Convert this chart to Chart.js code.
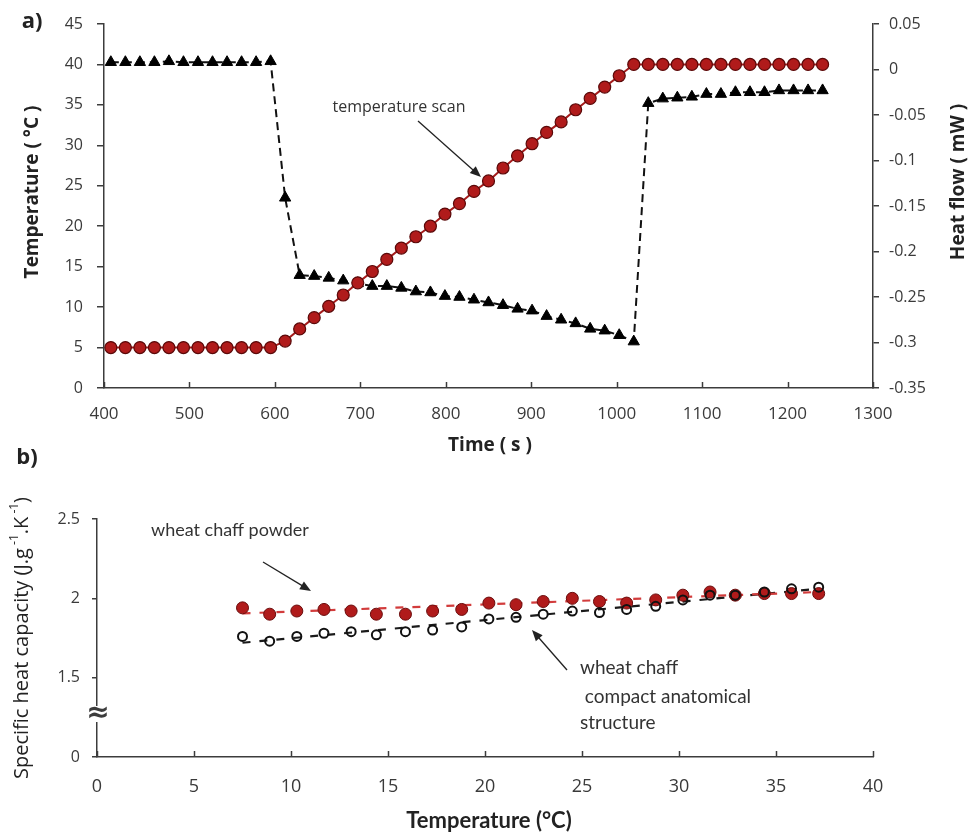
<!DOCTYPE html>
<html>
<head>
<meta charset="utf-8">
<script src="https://cdn.jsdelivr.net/npm/chart.js@4.4.0/dist/chart.umd.min.js"></script>
<style>
  html, body { margin: 0; padding: 0; background: #fff; }
  #wrap { position: relative; width: 971px; height: 834px; overflow: hidden; }
  #chart-a { position: absolute; left: 0; top: 0; }
  #chart-b { position: absolute; left: 0; top: 440px; }
</style>
</head>
<body>
<div id="wrap">
  <canvas id="chart-a" width="971" height="460"></canvas>
  <canvas id="chart-b" width="971" height="394"></canvas>
</div>
<script>
// a) 温度扫描: 时间 (s), 温度 (°C), 热流 (mW)
const scanTime = [408, 425, 442, 459, 476, 493, 510, 527, 544, 561, 578, 595,
    612, 629, 646, 663, 680, 697, 714, 731, 748, 765, 782, 799, 816, 833, 850,
    867, 884, 901, 918, 935, 952, 969, 986, 1003, 1020,
    1037, 1054, 1071, 1088, 1105, 1122, 1139, 1156, 1173, 1190, 1207, 1224, 1241];
const scanTemperature = [5, 5, 5, 5, 5, 5, 5, 5, 5, 5, 5, 5,
    5.8, 7.3, 8.7, 10.1, 11.5, 13.0, 14.4, 15.9, 17.3, 18.7, 20.0, 21.5, 22.8, 24.3, 25.6,
    27.2, 28.7, 30.2, 31.6, 32.9, 34.4, 35.8, 37.2, 38.6, 40.0,
    40, 40, 40, 40, 40, 40, 40, 40, 40, 40, 40, 40, 40];
const scanHeatFlow = [0.008, 0.008, 0.008, 0.008, 0.009, 0.008, 0.008, 0.008, 0.008, 0.008, 0.008, 0.009,
    -0.141, -0.226, -0.227, -0.229, -0.232, -0.235, -0.238, -0.238, -0.240, -0.244, -0.245, -0.249, -0.250, -0.253, -0.256,
    -0.259, -0.263, -0.265, -0.271, -0.275, -0.279, -0.285, -0.287, -0.292, -0.299,
    -0.037, -0.032, -0.031, -0.030, -0.027, -0.027, -0.025, -0.025, -0.025, -0.023, -0.023, -0.023, -0.023];

// b) 比热容: 温度 (°C), J.g-1.K-1
const cpTemperature = [7.5, 8.9, 10.3, 11.7, 13.1, 14.4, 15.9, 17.3, 18.8, 20.2, 21.6,
    23.0, 24.5, 25.9, 27.3, 28.8, 30.2, 31.6, 32.9, 34.4, 35.8, 37.2];
const cpPowder = [1.94, 1.90, 1.92, 1.93, 1.92, 1.90, 1.90, 1.92, 1.93, 1.97, 1.96,
    1.98, 2.00, 1.98, 1.97, 1.99, 2.02, 2.04, 2.02, 2.03, 2.03, 2.03];
const cpCompact = [1.76, 1.73, 1.76, 1.78, 1.79, 1.77, 1.79, 1.80, 1.82, 1.87, 1.88,
    1.90, 1.92, 1.91, 1.93, 1.95, 1.99, 2.02, 2.02, 2.04, 2.06, 2.07];
// 趋势线 (虚线) 两端
const trendX = [7.5, 37.2];
const powderTrend = [1.905, 2.04];
const compactTrend = [1.72, 2.06];
// 断轴: 最下面的刻度显示 0
const cpTickLabels = ['0', '1.5', '2', '2.5'];

const axisColor = '#3c3c3c';
const labelColor = '#3a3a3a';
const titleColor = '#222';

function toPoints(xs, ys) {
    return xs.map((x, i) => ({ x: x, y: ys[i] }));
}

// 向内的x轴刻度
const innerTicks = {
    id: 'innerTicks',
    afterDraw(chart) {
        const xs = chart.scales.x;
        const ctx = chart.ctx;
        ctx.save();
        ctx.strokeStyle = axisColor;
        ctx.lineWidth = 1.5;
        xs.ticks.forEach(t => {
            const px = Math.round(xs.getPixelForValue(t.value)) + 0.5;
            ctx.beginPath();
            ctx.moveTo(px, xs.top);
            ctx.lineTo(px, xs.top - 6);
            ctx.stroke();
        });
        ctx.restore();
    }
};

function arrow(ctx, x1, y1, x2, y2) {
    const ang = Math.atan2(y2 - y1, x2 - x1);
    ctx.save();
    ctx.strokeStyle = '#222';
    ctx.fillStyle = '#222';
    ctx.lineWidth = 1.3;
    ctx.beginPath();
    ctx.moveTo(x1, y1);
    ctx.lineTo(x2 - 8 * Math.cos(ang), y2 - 8 * Math.sin(ang));
    ctx.stroke();
    ctx.beginPath();
    ctx.moveTo(x2, y2);
    ctx.lineTo(x2 - 11 * Math.cos(ang) + 4.5 * Math.sin(ang), y2 - 11 * Math.sin(ang) - 4.5 * Math.cos(ang));
    ctx.lineTo(x2 - 11 * Math.cos(ang) - 4.5 * Math.sin(ang), y2 - 11 * Math.sin(ang) + 4.5 * Math.cos(ang));
    ctx.closePath();
    ctx.fill();
    ctx.restore();
}

function rotatedText(ctx, text, x, y, font, color) {
    ctx.save();
    ctx.translate(x, y);
    ctx.rotate(-Math.PI / 2);
    ctx.font = font;
    ctx.fillStyle = color;
    ctx.textAlign = 'center';
    ctx.textBaseline = 'middle';
    ctx.fillText(text, 0, 0);
    ctx.restore();
}

// 图a的文字
const labelsA = {
    id: 'labelsA',
    afterDraw(chart) {
        const ctx = chart.ctx;
        ctx.save();
        ctx.fillStyle = titleColor;
        ctx.textBaseline = 'middle';
        ctx.textAlign = 'center';
        ctx.font = 'bold 22px "Open Sans"';
        ctx.fillText('a)', 32, 22);
        ctx.font = 'bold 19px "Open Sans"';
        ctx.fillText('Time ( s )', 490, 446);
        ctx.font = '16px "Open Sans"';
        ctx.fillStyle = '#333';
        ctx.fillText('temperature scan', 399, 107);
        ctx.restore();
        rotatedText(ctx, 'Temperature ( °C )', 33, 192, 'bold 19px "Open Sans"', titleColor);
        rotatedText(ctx, 'Heat flow ( mW )', 959, 182, 'bold 19px "Open Sans"', titleColor);
        arrow(ctx, 418, 121, 481, 177);
    }
};

// 图b的文字
const labelsB = {
    id: 'labelsB',
    afterDraw(chart) {
        const ctx = chart.ctx;
        ctx.save();
        ctx.fillStyle = titleColor;
        ctx.textBaseline = 'middle';
        ctx.textAlign = 'center';
        ctx.font = 'bold 22px "Open Sans"';
        ctx.fillText('b)', 27, 18);
        ctx.font = 'bold 22px Lato';
        ctx.fillText('Temperature (°C)', 489, 381);
        ctx.fillStyle = '#333';
        ctx.textAlign = 'left';
        ctx.font = '18px Lato';
        ctx.fillText('wheat chaff powder', 151, 90);
        ctx.font = '19px Lato';
        ctx.fillText('wheat chaff', 580, 228);
        ctx.fillText(' compact anatomical', 580, 257);
        ctx.fillText('structure', 580, 283);

        // 断轴符号
        const ys = chart.scales.y;
        ctx.fillStyle = '#fff';
        ctx.fillRect(ys.right - 7, 266, 14, 16);
        ctx.fillStyle = axisColor;
        ctx.textAlign = 'center';
        ctx.font = 'bold 28px "DejaVu Sans"';
        ctx.fillText('\u2248', ys.right + 1, 274);

        // 纵轴标题 (带上标)
        ctx.translate(22, 198);
        ctx.rotate(-Math.PI / 2);
        ctx.fillStyle = titleColor;
        ctx.textBaseline = 'middle';
        ctx.textAlign = 'left';
        const parts = [
            ['Specific heat capacity (J.g', false],
            [' -1', true],
            ['.K', false],
            [' -1', true],
            [')', false]
        ];
        const normal = '500 20px "Open Sans"';
        const sup = '500 12px "Open Sans"';
        let total = 0;
        parts.forEach(p => { ctx.font = p[1] ? sup : normal; total += ctx.measureText(p[0]).width; });
        let cx = -total / 2;
        parts.forEach(p => {
            ctx.font = p[1] ? sup : normal;
            ctx.fillText(p[0], cx, p[1] ? -7 : 0);
            cx += ctx.measureText(p[0]).width;
        });
        ctx.restore();

        arrow(ctx, 263, 122, 311, 151);
        arrow(ctx, 567, 230, 532, 190);
    }
};

// 图a
new Chart(document.getElementById('chart-a'), {
    type: 'scatter',
    data: {
        datasets: [{
            label: 'Temperature',
            data: toPoints(scanTime, scanTemperature),
            yAxisID: 'y',
            showLine: true,
            borderColor: '#a51c1c',
            borderWidth: 2,
            pointStyle: 'circle',
            pointRadius: 6,
            pointBackgroundColor: '#b01b1b',
            pointBorderColor: '#5a0909',
            pointBorderWidth: 1.2
        }, {
            label: 'Heat flow',
            data: toPoints(scanTime, scanHeatFlow),
            yAxisID: 'y1',
            showLine: true,
            borderColor: '#111',
            borderWidth: 2,
            borderDash: [8, 5],
            pointStyle: 'triangle',
            pointRadius: 6.5,
            pointBackgroundColor: '#000',
            pointBorderColor: '#000',
            pointBorderWidth: 1
        }]
    },
    options: {
        responsive: false,
        animation: false,
        layout: { padding: { top: 24, left: 0, right: 0, bottom: 0 } },
        plugins: { legend: { display: false }, tooltip: { enabled: false } },
        scales: {
            x: {
                type: 'linear',
                min: 400,
                max: 1300,
                afterFit: s => { s.height = 72; },
                border: { color: axisColor, width: 1.5 },
                grid: { drawOnChartArea: false, drawTicks: false },
                ticks: {
                    stepSize: 100,
                    padding: 16,
                    color: labelColor,
                    font: { family: 'Open Sans', size: 17 },
                    callback: v => String(v)
                }
            },
            y: {
                position: 'left',
                min: 0,
                max: 45,
                afterFit: s => { s.width = 104; },
                border: { color: axisColor, width: 1.5 },
                grid: { drawOnChartArea: false, tickLength: 7, color: axisColor, lineWidth: 1.5 },
                ticks: {
                    stepSize: 5,
                    padding: 14,
                    color: labelColor,
                    font: { family: 'Open Sans', size: 16 }
                }
            },
            y1: {
                position: 'right',
                min: -0.35,
                max: 0.05,
                afterFit: s => { s.width = 98; },
                border: { color: axisColor, width: 1.5 },
                grid: { drawOnChartArea: false, tickLength: 6, color: axisColor, lineWidth: 1.5 },
                ticks: {
                    stepSize: 0.05,
                    padding: 10,
                    color: labelColor,
                    font: { family: 'Open Sans', size: 16 },
                    callback: v => String(Math.round(v * 100) / 100)
                }
            }
        }
    },
    plugins: [innerTicks, labelsA]
});

// 图b
new Chart(document.getElementById('chart-b'), {
    type: 'scatter',
    data: {
        datasets: [{
            label: 'compact',
            data: toPoints(cpTemperature, cpCompact),
            pointStyle: 'circle',
            pointRadius: 4.5,
            pointBackgroundColor: 'rgba(255,255,255,0)',
            pointBorderColor: '#111',
            pointBorderWidth: 2
        }, {
            label: 'powder',
            data: toPoints(cpTemperature, cpPowder),
            pointStyle: 'circle',
            pointRadius: 6,
            pointBackgroundColor: '#b01b1b',
            pointBorderColor: '#6a0c0c',
            pointBorderWidth: 1
        }, {
            label: 'powder trend',
            data: toPoints(trendX, powderTrend),
            showLine: true,
            pointRadius: 0,
            borderColor: '#d23c3c',
            borderWidth: 2.2,
            borderDash: [8, 9]
        }, {
            label: 'compact trend',
            data: toPoints(trendX, compactTrend),
            showLine: true,
            pointRadius: 0,
            borderColor: '#1a1a1a',
            borderWidth: 2.2,
            borderDash: [8, 9]
        }]
    },
    options: {
        responsive: false,
        animation: false,
        layout: { padding: { top: 79, left: 0, right: 98, bottom: 0 } },
        plugins: { legend: { display: false }, tooltip: { enabled: false } },
        scales: {
            x: {
                type: 'linear',
                min: 0,
                max: 40,
                afterFit: s => { s.height = 77; },
                border: { color: axisColor, width: 1.5 },
                grid: { drawOnChartArea: false, drawTicks: false },
                ticks: {
                    stepSize: 5,
                    padding: 19,
                    color: labelColor,
                    font: { family: 'Open Sans', size: 18 }
                }
            },
            y: {
                min: 1,
                max: 2.5,
                afterFit: s => { s.width = 97; },
                border: { color: axisColor, width: 1.5 },
                grid: { drawOnChartArea: false, tickLength: 5, color: axisColor, lineWidth: 1.5 },
                ticks: {
                    stepSize: 0.5,
                    padding: 12,
                    color: labelColor,
                    font: { family: 'Open Sans', size: 16 },
                    callback: (v, i) => cpTickLabels[i]
                }
            }
        }
    },
    plugins: [innerTicks, labelsB]
});
</script>
</body>
</html>
